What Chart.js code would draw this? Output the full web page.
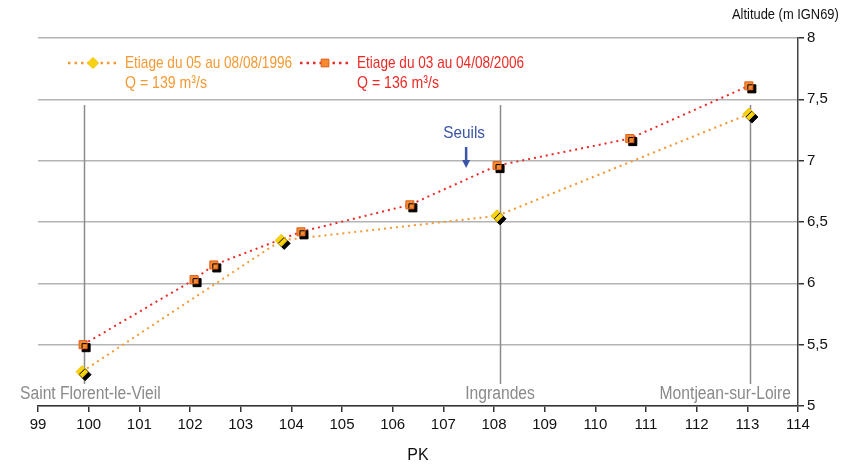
<!DOCTYPE html>
<html>
<head>
<meta charset="utf-8">
<script src="https://cdn.jsdelivr.net/npm/chart.js@4/dist/chart.umd.min.js"></script>
<style>
  html, body { margin: 0; padding: 0; background: #fff; }
  #wrap { width: 864px; height: 465px; position: relative; }
</style>
</head>
<body>
<div id="wrap"><canvas id="chart" width="864" height="465"></canvas></div>
<script>
// Data
const pk1996 = [99.87, 103.80, 108.06, 113.03];
const alt1996 = [5.28, 6.35, 6.55, 7.38];
const pk2006 = [99.89, 102.08, 102.47, 104.19, 106.34, 108.06, 110.68, 113.03];
const alt2006 = [5.50, 6.03, 6.15, 6.42, 6.64, 6.96, 7.18, 7.61];
const placeNames = ['Saint Florent-le-Vieil', 'Ingrandes', 'Montjean-sur-Loire'];
const placePk = [99.9, 108.12, 113.05];
const seuilPk = 107.45;
const seriesLabels = ['Etiage du 05 au 08/08/1996', 'Etiage du 03 au 04/08/2006'];
const seriesQ = ['Q = 139 m³/s', 'Q = 136 m³/s'];

const FONT = "'Liberation Sans', Arial, sans-serif";
const ORANGE = '#f39a34';
const RED = '#ea2b25';

const toPoints = (xs, ys) => xs.map((x, i) => ({ x: x, y: ys[i] }));

// the original uses a condensed face, so squeeze the text horizontally
function narrowText(c, text, x, y, sx, align) {
  const w = c.measureText(text).width * sx;
  const left = align === 'center' ? x - w / 2 : align === 'right' ? x - w : x;
  c.save();
  c.translate(left, y);
  c.scale(sx, 1);
  c.textAlign = 'left';
  c.fillText(text, 0, 0);
  c.restore();
  return w;
}

// black offset shadow for the marker datasets
const shadowPlugin = {
  id: 'shadow',
  beforeDatasetDraw(chart, args) {
    if (!chart.data.datasets[args.index].shadow) return;
    const c = chart.ctx;
    c.save();
    c.shadowColor = '#000';
    c.shadowOffsetX = 3;
    c.shadowOffsetY = 3;
    c.shadowBlur = 0;
  },
  afterDatasetDraw(chart, args) {
    if (!chart.data.datasets[args.index].shadow) return;
    chart.ctx.restore();
  }
};

// place lines, labels, legend, Seuils and axis title
const extrasPlugin = {
  id: 'extras',
  beforeDatasetsDraw(chart) {
    const c = chart.ctx;
    const xs = chart.scales.x;
    c.save();
    c.strokeStyle = '#8c8c8c';
    c.lineWidth = 1.5;
    placePk.forEach(pk => {
      const x = Math.round(xs.getPixelForValue(pk)) + 0.5;
      c.beginPath();
      c.moveTo(x, 105);
      c.lineTo(x, 384);
      c.stroke();
    });
    c.restore();
  },
  afterDraw(chart) {
    const c = chart.ctx;
    const xs = chart.scales.x;
    c.save();
    c.textBaseline = 'middle';

    // place names
    c.font = '18px ' + FONT;
    c.fillStyle = '#8a8a8a';
    placeNames.forEach((name, i) => {
      const w = c.measureText(name).width * 0.87;
      let left = xs.getPixelForValue(placePk[i]) - w / 2;
      left = Math.max(20, Math.min(left, 791 - w));
      narrowText(c, name, left, 394, 0.87, 'left');
    });

    // Seuils
    const sx = xs.getPixelForValue(seuilPk);
    c.fillStyle = '#3a55a5';
    c.font = '17px ' + FONT;
    narrowText(c, 'Seuils', sx - 2, 133, 0.9, 'center');
    c.strokeStyle = '#3a55a5';
    c.lineWidth = 2.5;
    c.beginPath();
    c.moveTo(sx, 147);
    c.lineTo(sx, 162);
    c.stroke();
    c.beginPath();
    c.moveTo(sx - 4, 160);
    c.lineTo(sx + 4, 160);
    c.lineTo(sx, 168);
    c.closePath();
    c.fill();

    // legend
    const items = [
      { x0: 68, colour: ORANGE, style: 'rectRot', fill: '#f7d210', border: '#f0c000', r: 5.5 },
      { x0: 300, colour: RED, style: 'rect', fill: '#f58a30', border: '#e0601c', r: 5.5 }
    ];
    items.forEach((it, i) => {
      c.strokeStyle = it.colour;
      c.lineWidth = 2.5;
      c.setLineDash([2.5, 4]);
      c.beginPath();
      c.moveTo(it.x0, 63);
      c.lineTo(it.x0 + 49, 63);
      c.stroke();
      c.setLineDash([]);
      c.fillStyle = it.fill;
      c.strokeStyle = it.border;
      c.lineWidth = 1;
      Chart.helpers.drawPoint(c, { pointStyle: it.style, radius: it.r, borderWidth: 1 }, it.x0 + 25, 63);
      c.fillStyle = it.colour;
      c.font = '17px ' + FONT;
      narrowText(c, seriesLabels[i], it.x0 + 57, 63, 0.8, 'left');
      narrowText(c, seriesQ[i], it.x0 + 57, 83, 0.83, 'left');
    });

    // axis title
    c.fillStyle = '#111';
    c.font = '15px ' + FONT;
    narrowText(c, 'Altitude (m IGN69)', 732, 15, 0.86, 'left');
    c.restore();
  }
};

new Chart(document.getElementById('chart'), {
  type: 'line',
  data: {
    datasets: [
      {
        data: toPoints(pk1996, alt1996),
        shadow: true, showLine: false, order: 0,
        pointStyle: 'rectRot', pointRadius: 6,
        pointBackgroundColor: '#f7d210', pointBorderColor: '#f0c000', pointBorderWidth: 1
      },
      {
        data: toPoints(pk2006, alt2006),
        shadow: true, showLine: false, order: 0,
        pointStyle: 'rect', pointRadius: 5.7,
        pointBackgroundColor: '#f58a30', pointBorderColor: '#e0601c', pointBorderWidth: 1
      },
      {
        data: toPoints(pk1996, alt1996),
        order: 1, pointRadius: 0,
        borderColor: ORANGE, borderWidth: 2, borderDash: [2, 4], tension: 0
      },
      {
        data: toPoints(pk2006, alt2006),
        order: 1, pointRadius: 0,
        borderColor: RED, borderWidth: 2, borderDash: [2, 4], tension: 0
      }
    ]
  },
  options: {
    responsive: false,
    animation: false,
    clip: false,
    layout: { padding: { left: 38, top: 38, right: 0, bottom: 0 } },
    plugins: { legend: { display: false }, tooltip: { enabled: false } },
    scales: {
      x: {
        type: 'linear',
        min: 99, max: 114,
        afterFit: (s) => { s.height = 59; },
        ticks: { stepSize: 1, color: '#111', font: { family: FONT, size: 15 }, padding: 4 },
        grid: { drawOnChartArea: false, tickLength: 6, color: '#333', lineWidth: 1.5 },
        border: { color: '#333', width: 1.5 },
        title: { display: true, text: 'PK', color: '#111', font: { family: FONT, size: 16 }, padding: { top: 0, bottom: 0 } }
      },
      y: {
        position: 'right',
        min: 5, max: 8,
        afterFit: (s) => { s.width = 66; },
        ticks: {
          stepSize: 0.5, color: '#111', font: { family: FONT, size: 15 }, padding: 3,
          callback: (v) => String(v).replace('.', ',')
        },
        grid: { color: '#b4b4b4', lineWidth: 1.5, tickLength: 6, tickColor: '#333' },
        border: { color: '#444', width: 1.5 }
      }
    }
  },
  plugins: [shadowPlugin, extrasPlugin]
});
</script>
</body>
</html>
